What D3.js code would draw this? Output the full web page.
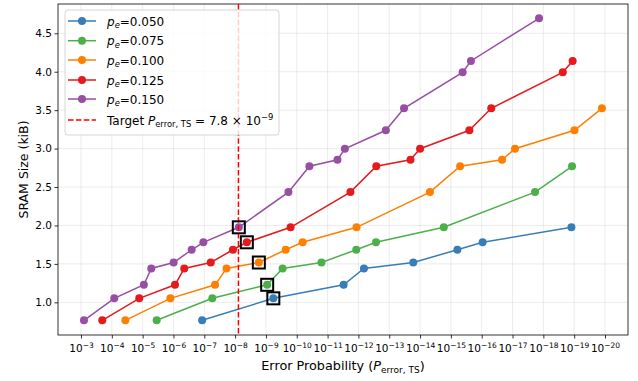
<!DOCTYPE html>
<html>
<head>
<meta charset="utf-8">
<script src="https://cdn.jsdelivr.net/npm/d3@7"></script>
<style>
  html, body { margin: 0; padding: 0; background: #fff; }
  svg { display: block; font-family: "DejaVu Sans", sans-serif; }
</style>
</head>
<body>
<svg id="chart" width="638" height="381"></svg>
<script>
// Error probabilities are stored as positive exponents: P = 10^(-e)
const seriesLabels = ["0.050", "0.075", "0.100", "0.125", "0.150"];
const seriesColors = ["#377eb8", "#4daf4a", "#ff7f00", "#e41a1c", "#984ea3"];

const exp050 = [6.93, 9.24, 11.52, 12.18, 13.78, 15.21, 16.03, 18.91];
const size050 = [0.766, 1.052, 1.228, 1.441, 1.518, 1.684, 1.781, 1.976];

const exp075 = [5.455, 7.26, 9.04, 9.54, 10.80, 11.93, 12.57, 14.77, 17.73, 18.93];
const size075 = [0.766, 1.052, 1.228, 1.441, 1.518, 1.684, 1.781, 1.976, 2.434, 2.770];

const exp100 = [4.44, 5.90, 7.35, 7.72, 8.77, 9.64, 10.19, 11.94, 14.32, 15.30, 16.66, 17.08, 19.01, 19.90];
const size100 = [0.766, 1.052, 1.228, 1.441, 1.518, 1.684, 1.781, 1.976, 2.434, 2.770, 2.855, 2.998, 3.238, 3.524];

const exp125 = [3.69, 4.89, 6.05, 6.35, 7.21, 7.93, 8.38, 9.80, 11.74, 12.58, 13.69, 14.00, 15.60, 16.31, 18.63, 18.95];
const size125 = [0.766, 1.052, 1.228, 1.441, 1.518, 1.684, 1.781, 1.976, 2.434, 2.770, 2.855, 2.998, 3.238, 3.524, 3.992, 4.140];

const exp150 = [3.097, 4.08, 5.04, 5.28, 6.006, 6.59, 6.97, 8.12, 9.73, 10.41, 11.32, 11.56, 12.89, 13.48, 15.38, 15.65, 17.86];
const size150 = [0.766, 1.052, 1.228, 1.441, 1.518, 1.684, 1.781, 1.976, 2.434, 2.770, 2.855, 2.998, 3.238, 3.524, 3.992, 4.140, 4.695];

const xTickExps = [3, 4, 5, 6, 7, 8, 9, 10, 11, 12, 13, 14, 15, 16, 17, 18, 19, 20];
const yTicks = [1.0, 1.5, 2.0, 2.5, 3.0, 3.5, 4.0, 4.5];

const targetMantissa = 7.8, targetExp = 9;
const targetP = targetMantissa * Math.pow(10, -targetExp);

const seriesExps = [exp050, exp075, exp100, exp125, exp150];
const seriesSizes = [size050, size075, size100, size125, size150];

const series = seriesLabels.map((lab, i) => ({
  label: lab,
  color: seriesColors[i],
  points: seriesExps[i].map((e, j) => ({ p: Math.pow(10, -e), s: seriesSizes[i][j] }))
}));

const svg = d3.select("#chart");
const pLeft = 58, pRight = 628, pTop = 4, pBottom = 335;

const x = d3.scaleLog().domain([Math.pow(10, -2.254), Math.pow(10, -20.746)]).range([pLeft, pRight]);
const y = d3.scaleLinear().domain([0.575, 4.881]).range([pBottom, pTop]);

// grid
const grid = svg.append("g");
xTickExps.forEach(e => {
  grid.append("line").attr("x1", x(Math.pow(10, -e))).attr("x2", x(Math.pow(10, -e)))
    .attr("y1", pTop).attr("y2", pBottom).attr("stroke", "#b0b0b0").attr("stroke-opacity", 0.3).attr("stroke-width", 0.8);
});
yTicks.forEach(v => {
  grid.append("line").attr("x1", pLeft).attr("x2", pRight).attr("y1", y(v)).attr("y2", y(v))
    .attr("stroke", "#b0b0b0").attr("stroke-opacity", 0.3).attr("stroke-width", 0.8);
});

// axes
const xAxis = d3.axisBottom(x).tickValues(xTickExps.map(e => Math.pow(10, -e))).tickSize(3.5).tickFormat(() => "");
const gx = svg.append("g").attr("transform", `translate(0,${pBottom})`).call(xAxis);
gx.select(".domain").remove();
gx.selectAll(".tick text").remove();
gx.selectAll(".tick line").attr("stroke", "#000").attr("stroke-width", 0.8);
gx.selectAll(".tick").each(function(d) {
  const e = Math.round(-Math.log10(d));
  const t = d3.select(this).append("text").attr("y", 17).attr("text-anchor", "middle")
    .attr("fill", "#000").attr("font-size", 10.5).attr("font-family", "DejaVu Sans");
  t.append("tspan").text("10");
  t.append("tspan").attr("dy", -4.5).attr("font-size", 7.5).text("\u2212" + e);
});

const yAxis = d3.axisLeft(y).tickValues(yTicks).tickSize(3.5).tickFormat(d3.format(".1f"));
const gy = svg.append("g").attr("transform", `translate(${pLeft},0)`).call(yAxis);
gy.select(".domain").remove();
gy.selectAll(".tick line").attr("stroke", "#000").attr("stroke-width", 0.8);
gy.selectAll(".tick text").attr("font-size", 10.5).attr("fill", "#000").attr("font-family", "DejaVu Sans").attr("x", -6);

// frame
svg.append("rect").attr("x", pLeft).attr("y", pTop).attr("width", pRight - pLeft).attr("height", pBottom - pTop)
  .attr("fill", "none").attr("stroke", "#000").attr("stroke-width", 0.8);

// axis labels
svg.append("text").attr("transform", `translate(28,${(pTop + pBottom) / 2}) rotate(-90)`)
  .attr("text-anchor", "middle").attr("font-size", 12.5).attr("fill", "#000").text("SRAM Size (kiB)");
const xl = svg.append("text").attr("x", (pLeft + pRight) / 2).attr("y", 370).attr("text-anchor", "middle")
  .attr("font-size", 12.8).attr("fill", "#000");
xl.append("tspan").text("Error Probability (");
xl.append("tspan").attr("font-style", "italic").text("P");
xl.append("tspan").attr("font-size", 9).attr("dy", 3).text("error, TS");
xl.append("tspan").attr("dy", -3).text(")");

// series
const line = d3.line().x(d => x(d.p)).y(d => y(d.s));
const plot = svg.append("g");
series.forEach(s => {
  plot.append("path").datum(s.points).attr("d", line).attr("fill", "none")
    .attr("stroke", s.color).attr("stroke-width", 1.5);
  plot.selectAll(null).data(s.points).enter().append("circle")
    .attr("cx", d => x(d.p)).attr("cy", d => y(d.s)).attr("r", 4).attr("fill", s.color);
});

// target line
svg.append("line").attr("x1", x(targetP)).attr("x2", x(targetP)).attr("y1", pTop).attr("y2", pBottom)
  .attr("stroke", "#ff0000").attr("stroke-width", 1.5).attr("stroke-dasharray", "5.5,2.4");

// first configuration meeting the target in each series
series.forEach(s => {
  const pt = s.points.find(d => d.p <= targetP);
  if (!pt) return;
  svg.append("rect").attr("x", x(pt.p) - 6).attr("y", y(pt.s) - 6).attr("width", 12).attr("height", 12)
    .attr("fill", "none").attr("stroke", "#000").attr("stroke-width", 2);
});

// legend
const lgFont = 12, lgSub = 8.4;
const lg = svg.append("g").attr("transform", "translate(65,10)");
lg.append("rect").attr("width", 214).attr("height", 125).attr("rx", 3)
  .attr("fill", "#fff").attr("fill-opacity", 0.8).attr("stroke", "#ccc").attr("stroke-width", 0.8);
const rowY = [11, 30.7, 50, 70, 89, 110];
series.forEach((s, i) => {
  const g = lg.append("g").attr("transform", `translate(0,${rowY[i]})`);
  g.append("line").attr("x1", 3).attr("x2", 31).attr("stroke", s.color).attr("stroke-width", 1.5);
  g.append("circle").attr("cx", 17).attr("r", 4).attr("fill", s.color);
  const t = g.append("text").attr("x", 42).attr("y", 4.5).attr("font-size", lgFont).attr("fill", "#000");
  t.append("tspan").attr("font-style", "italic").text("p");
  t.append("tspan").attr("font-style", "italic").attr("font-size", lgSub).attr("dy", 2.8).text("e");
  t.append("tspan").attr("dy", -2.8).text("=" + s.label);
});
{
  const g = lg.append("g").attr("transform", `translate(0,${rowY[5]})`);
  g.append("line").attr("x1", 3).attr("x2", 31).attr("stroke", "#ff0000").attr("stroke-width", 1.5)
    .attr("stroke-dasharray", "5.5,2.4");
  const t = g.append("text").attr("x", 42).attr("y", 4.5).attr("font-size", lgFont).attr("fill", "#000");
  t.append("tspan").text("Target ");
  t.append("tspan").attr("font-style", "italic").text("P");
  t.append("tspan").attr("font-size", lgSub).attr("dy", 2.8).text("error, TS");
  t.append("tspan").attr("dy", -2.8).text(" = " + targetMantissa + " \u00d7 10");
  t.append("tspan").attr("font-size", lgSub).attr("dy", -4.5).text("\u2212" + targetExp);
}
</script>
</body>
</html>
